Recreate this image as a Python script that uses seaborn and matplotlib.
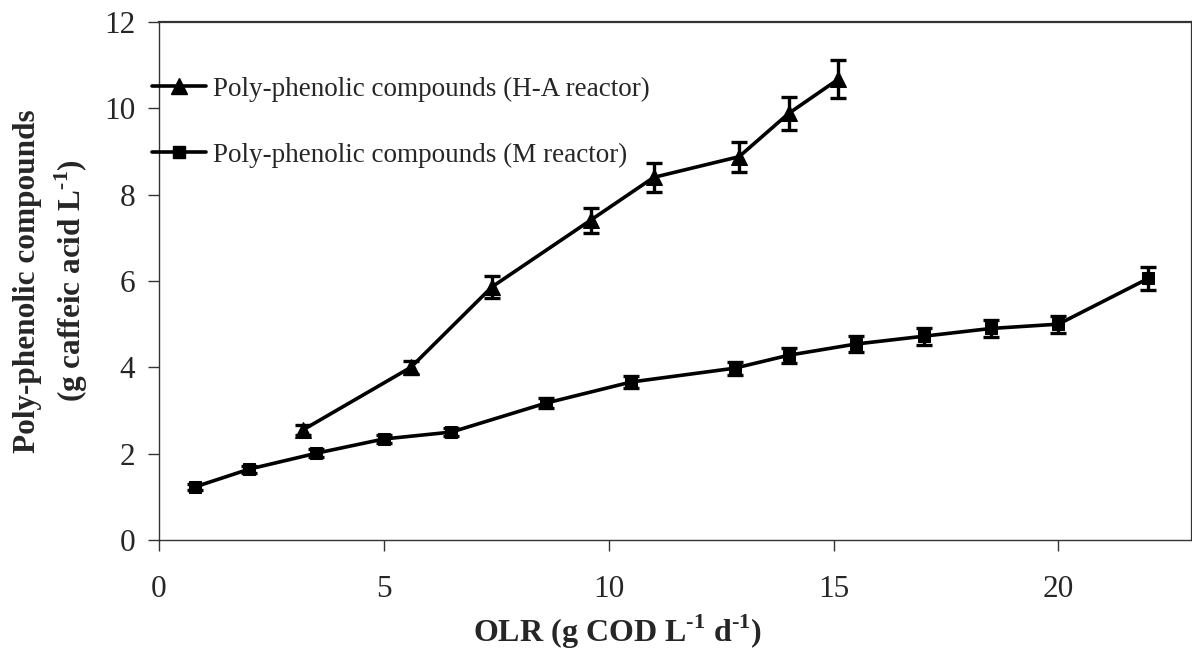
import matplotlib
matplotlib.use("Agg")
import matplotlib.pyplot as plt
import seaborn as sns
import pandas as pd
from matplotlib.lines import Line2D

# Data
olr_ha = [3.2, 5.6, 7.4, 9.6, 11.0, 12.9, 14.0, 15.1]
pp_ha = [2.55, 4.0, 5.86, 7.41, 8.4, 8.88, 9.88, 10.67]
err_ha = [0.12, 0.15, 0.25, 0.29, 0.33, 0.35, 0.39, 0.44]

olr_m = [0.8, 2.0, 3.5, 5.0, 6.5, 8.6, 10.5, 12.8, 14.0, 15.5, 17.0, 18.5, 20.0, 22.0]
pp_m = [1.23, 1.64, 2.01, 2.34, 2.5, 3.17, 3.66, 3.98, 4.28, 4.54, 4.72, 4.9, 5.0, 6.06]
err_m = [0.07, 0.08, 0.09, 0.1, 0.1, 0.12, 0.14, 0.15, 0.17, 0.18, 0.2, 0.2, 0.2, 0.26]

x_ticks = [0, 5, 10, 15, 20]
y_ticks = [0, 2, 4, 6, 8, 10, 12]

label_ha = "Poly-phenolic compounds (H-A reactor)"
label_m = "Poly-phenolic compounds (M reactor)"

sns.set_theme(style="white")
plt.rcParams['font.family'] = ['Liberation Serif', 'DejaVu Serif']
plt.rcParams['mathtext.fontset'] = 'custom'
plt.rcParams['mathtext.rm'] = 'Liberation Serif'
plt.rcParams['mathtext.bf'] = 'Liberation Serif:bold'

fig = plt.figure(figsize=(11.92, 6.62), dpi=100)
ax = fig.add_axes([0.1334, 0.1843, 0.8662, 0.7825])

df = pd.concat([
    pd.DataFrame({"olr": olr_ha, "pp": pp_ha, "series": label_ha}),
    pd.DataFrame({"olr": olr_m, "pp": pp_m, "series": label_m}),
])

sns.lineplot(data=df, x="olr", y="pp", hue="series", style="series",
             palette=["black", "black"], markers={label_ha: "^", label_m: "s"},
             dashes=False, linewidth=2.6, markersize=11, markeredgecolor="black",
             legend=False, ax=ax, sort=False)
for ln in ax.lines:
    if ln.get_marker() == "s":
        ln.set_markersize(8)

ax.errorbar(olr_ha, pp_ha, yerr=err_ha, fmt="none", ecolor="black",
            elinewidth=2.4, capsize=5.5, capthick=2.4)
ax.errorbar(olr_m, pp_m, yerr=err_m, fmt="none", ecolor="black",
            elinewidth=2.4, capsize=5.5, capthick=2.4)

ax.set_xlim(0, 22.96)
ax.set_ylim(0, 12)
ax.set_xticks(x_ticks)
ax.set_yticks(y_ticks)
ax.tick_params(axis="both", which="major", direction="out", length=8, width=1,
               color="#333333", labelsize=22.5, left=True, bottom=True)
ax.tick_params(axis="x", pad=17)
ax.tick_params(axis="y", pad=9)

for side, sp in ax.spines.items():
    sp.set_visible(True)
    if side in ("left", "bottom"):
        sp.set_linewidth(1.0)
        sp.set_color("#333333")
    else:
        sp.set_linewidth(1.6)
        sp.set_color("#333333")

ax.set_xlabel("OLR (g COD L$^{\\mathbf{\u20101}}$ d$^{\\mathbf{\u20101}}$)", fontsize=23,
              fontweight="bold")
ax.xaxis.label.set_va("center")
ax.xaxis.set_label_coords(0.444, -0.178)

ax.set_ylabel("Poly-phenolic compounds\n(g caffeic acid L$^{\\mathbf{\u20101}}$)",
              fontsize=22.5, fontweight="bold", linespacing=1.35)
ax.yaxis.label.set_va("center")
ax.yaxis.set_label_coords(-0.104, 0.5)

handles = [
    Line2D([], [], color="black", lw=2.6, marker="^", markersize=11),
    Line2D([], [], color="black", lw=2.6, marker="s", markersize=8),
]
ax.legend(handles, [label_ha, label_m], loc="upper left",
          bbox_to_anchor=(-0.0068, 0.895), frameon=False, fontsize=19.5,
          handlelength=2.0, handletextpad=0.27, labelspacing=1.52, borderpad=0,
          borderaxespad=0)

fig.savefig("out.png", dpi=100)
